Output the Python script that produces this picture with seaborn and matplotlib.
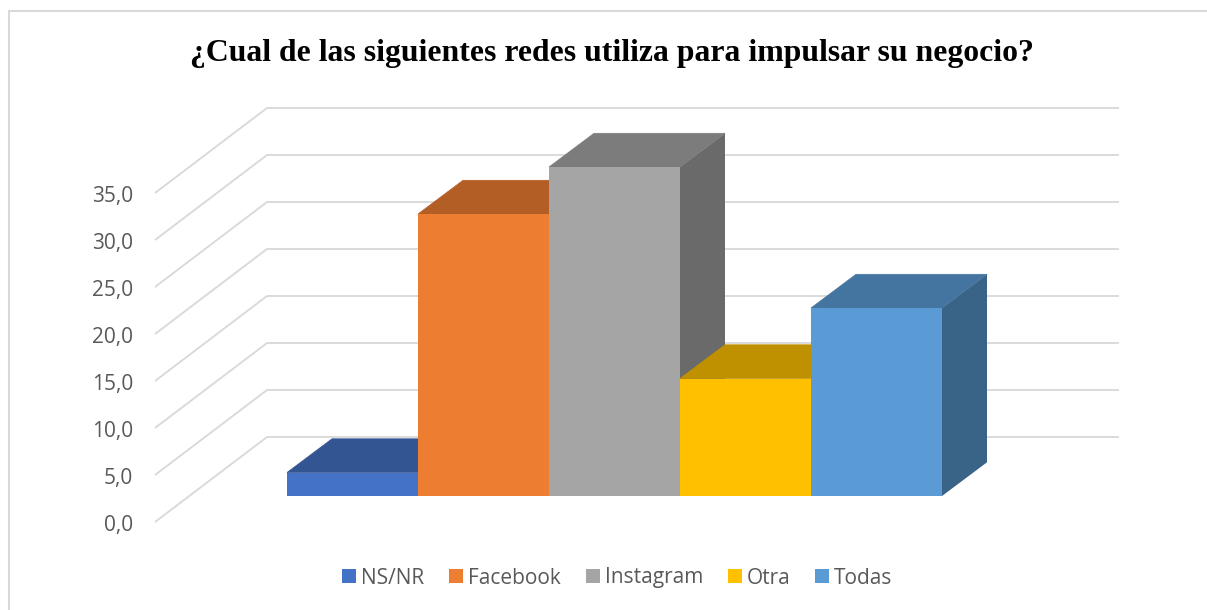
import matplotlib
matplotlib.use("Agg")
import matplotlib.pyplot as plt
from matplotlib.colors import to_rgb
from matplotlib.patches import Polygon, Rectangle
import pandas as pd
import seaborn as sns

# Survey results
categories = ["NS/NR", "Facebook", "Instagram", "Otra", "Todas"]
percentages = [2.5, 30.0, 35.0, 12.5, 20.0]
bar_colors = ["#4472C4", "#ED7D31", "#A5A5A5", "#FFC000", "#5B9BD5"]
tick_values = [0, 5, 10, 15, 20, 25, 30, 35]
tick_labels = ["0,0", "5,0", "10,0", "15,0", "20,0", "25,0", "30,0", "35,0"]
title = "¿Cual de las siguientes redes utiliza para impulsar su negocio?"

W, H = 1207, 610
PX_X = 131.0   # pixels per category
PX_Y = 9.4     # pixels per percentage point
BASE_X, BASE_Y = 287, 496  # lower-left corner of the first bar


def xd(px):
    return (px - BASE_X) / PX_X - 0.5


def yd(py):
    return (BASE_Y - py) / PX_Y


sns.set_theme(style="white")
fig = plt.figure(figsize=(W / 100, H / 100), dpi=100, facecolor="white")
ax = fig.add_axes([0, 0, 1, 1])

df = pd.DataFrame({"red": categories, "pct": percentages})
sns.barplot(data=df, x="red", y="pct", hue="red", palette=bar_colors,
            hue_order=categories, order=categories, width=1.0, dodge=False,
            saturation=1, legend=False, ax=ax, linewidth=0)

ax.set_xlim(xd(0), xd(W))
ax.set_ylim(yd(H), yd(0))
ax.set_xlabel("")
ax.set_ylabel("")
ax.set_xticks([])
ax.set_yticks([])
for spine in ax.spines.values():
    spine.set_visible(False)
ax.patch.set_alpha(0)

# Box depth and wall geometry of the pseudo-3D plot
depth_x = 45 / PX_X
depth_y = 33.7 / PX_Y
wall_left, wall_right = xd(267), xd(1119)
floor_left = xd(155)
back_zero, front_zero = yd(437), yd(522)

grid_color = "#D9D9D9"
for v in tick_values:
    ax.plot([floor_left, wall_left, wall_right],
            [front_zero + v, back_zero + v, back_zero + v],
            color=grid_color, lw=1.35, zorder=1, solid_capstyle="butt",
            solid_joinstyle="miter")

# Extrude each bar: roof and right side, drawn left to right so nearer faces cover
handles = []
bars = list(ax.patches)
for i, bar in enumerate(bars):
    x0, w, h = bar.get_x(), bar.get_width(), bar.get_height()
    rgb = to_rgb(bar_colors[i])
    top = [c * 0.75 for c in rgb]
    side = [c * 0.64 for c in rgb]
    z = 10 + 3 * i
    bar.set_zorder(z + 2)
    ax.add_patch(Polygon([(x0 + w, 0), (x0 + w + depth_x, depth_y),
                          (x0 + w + depth_x, h + depth_y), (x0 + w, h)],
                         closed=True, fc=side, ec="none", zorder=z))
    ax.add_patch(Polygon([(x0, h), (x0 + w, h), (x0 + w + depth_x, h + depth_y),
                          (x0 + depth_x, h + depth_y)],
                         closed=True, fc=top, ec=top, lw=0.5, zorder=z + 1))
    handles.append(Rectangle((0, 0), 1, 1, fc=bar_colors[i], ec="none", label=categories[i]))

# Value axis along the front edge of the floor
label_zero = yd(523)
sec = ax.secondary_yaxis(xd(133), transform=ax.transData,
                         functions=(lambda y: y - label_zero, lambda v: v + label_zero))
sec.set_yticks(tick_values, labels=tick_labels)
sec.tick_params(axis="y", length=0, pad=0, labelsize=15, labelcolor="#595959")
for lab in sec.get_yticklabels():
    lab.set_fontfamily("Open Sans")
sec.spines["left"].set_visible(False)
sec.spines["right"].set_visible(False)

ax.legend(handles=handles, ncol=5, frameon=False, loc="center",
          bbox_to_anchor=(617.5 / W, 1 - 578 / H),
          prop={"family": "Open Sans", "size": 15}, labelcolor="#595959",
          handlelength=0.66, handleheight=0.66, handletextpad=0.25, columnspacing=1.19,
          borderpad=0, borderaxespad=0)

ax.text(611.5 / W, 1 - 54 / H, title, transform=ax.transAxes, ha="center", va="center",
        family="Liberation Serif", weight="bold", fontsize=22.85, color="black")

# Chart frame
ax.add_patch(Rectangle((8.5 / W, -0.1), 1.2, 1 - 11.5 / H + 0.1, transform=ax.transAxes,
                       fc="none", ec=grid_color, lw=1.5, zorder=0.5))

fig.savefig("out.png", dpi=100, facecolor="white")
